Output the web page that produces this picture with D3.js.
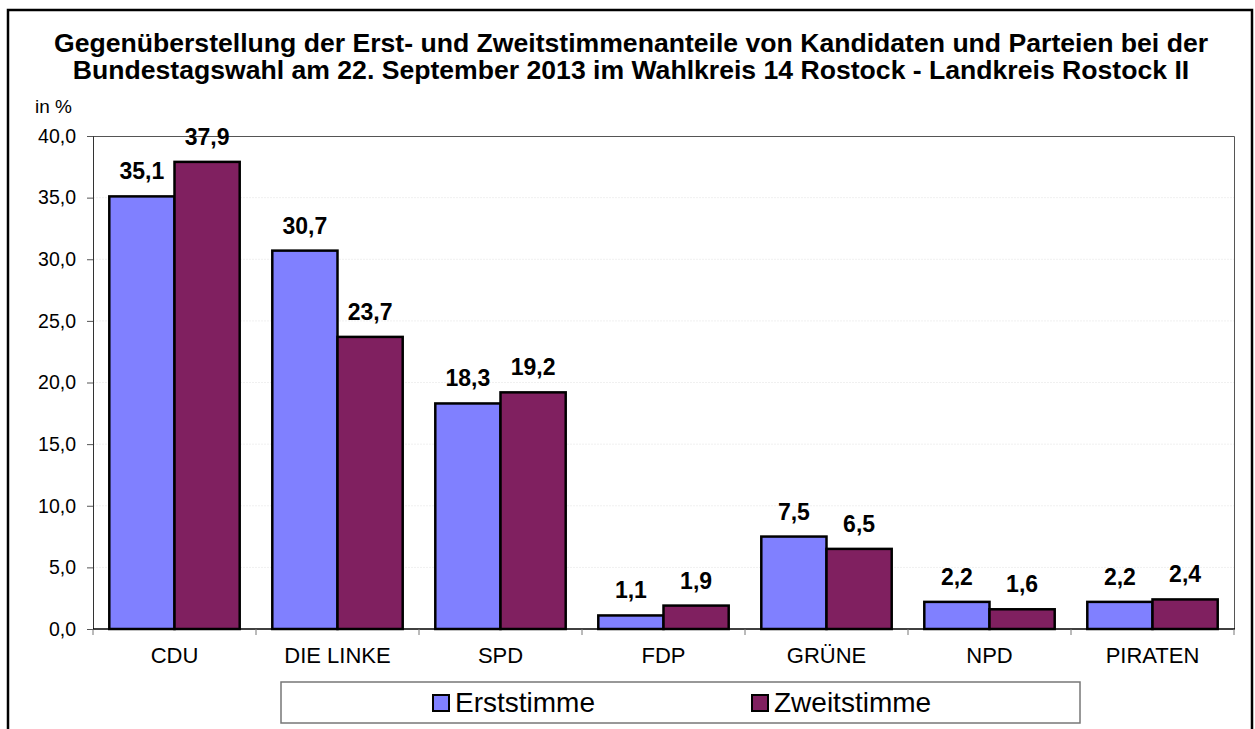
<!DOCTYPE html>
<html>
<head>
<meta charset="utf-8">
<script src="https://cdn.jsdelivr.net/npm/d3@7"></script>
<style>
  body { margin: 0; background: #fff; }
  text { font-family: Arial, "Liberation Sans", sans-serif; fill: #000; }
</style>
</head>
<body>
<svg width="1255" height="729"></svg>
<script>
// data
var parties = ["CDU", "DIE LINKE", "SPD", "FDP", "GRÜNE", "NPD", "PIRATEN"];
var erststimme = [35.1, 30.7, 18.3, 1.1, 7.5, 2.2, 2.2];
var zweitstimme = [37.9, 23.7, 19.2, 1.9, 6.5, 1.6, 2.4];
var seriesNames = ["Erststimme", "Zweitstimme"];
var seriesColors = ["#8080ff", "#802060"];
var yTicks = [0, 5, 10, 15, 20, 25, 30, 35, 40];
var titleLines = [
    "Gegenüberstellung der Erst- und Zweitstimmenanteile von Kandidaten und Parteien bei der",
    "Bundestagswahl am 22. September 2013 im Wahlkreis 14 Rostock - Landkreis Rostock II"
];

var de = d3.formatLocale({ decimal: ",", thousands: ".", grouping: [3], currency: ["", " €"] });
var fmt = de.format(".1f");

var svg = d3.select("svg");
var plotL = 93, plotR = 1234, plotT = 136, plotB = 629;

// outer frame
svg.append("rect")
    .attr("x", 8).attr("y", 10)
    .attr("width", 1244).attr("height", 740)
    .attr("fill", "#fff")
    .attr("stroke", "#000")
    .attr("stroke-width", 2.5);

// title
svg.selectAll(".title").data(titleLines).enter().append("text")
    .attr("class", "title")
    .attr("x", 631)
    .attr("y", function (d, i) { return 52 + i * 27; })
    .attr("text-anchor", "middle")
    .style("font-size", "26.6px")
    .style("font-weight", "bold")
    .text(function (d) { return d; });

svg.append("text")
    .attr("x", 35).attr("y", 113)
    .style("font-size", "19px")
    .text("in %");

var y = d3.scaleLinear().domain([0, 40]).range([plotB, plotT]);
var x0 = d3.scaleBand().domain(parties).range([plotL, plotR]).paddingInner(0.2).paddingOuter(0.1);
var x1 = d3.scaleBand().domain(seriesNames).range([0, x0.bandwidth()]);

// gridlines, very faint in the original
svg.append("g").selectAll("line").data(yTicks.filter(function (t) { return t > 0 && t < 40; }))
    .enter().append("line")
    .attr("x1", plotL).attr("x2", plotR)
    .attr("y1", function (d) { return y(d); })
    .attr("y2", function (d) { return y(d); })
    .attr("stroke", "#f0f0f0")
    .attr("stroke-width", 1)
    .attr("stroke-dasharray", "2,1");

// plot border top/right
svg.append("path")
    .attr("d", "M" + plotL + "," + (plotT + 0.5) + "H" + (plotR + 0.5) + "V" + plotB)
    .attr("fill", "none")
    .attr("stroke", "#555")
    .attr("stroke-width", 1);

// y axis
var yAxis = d3.axisLeft(y).tickValues(yTicks).tickSize(6).tickPadding(11).tickFormat(fmt);
var gy = svg.append("g").attr("transform", "translate(" + plotL + ",0)").call(yAxis);
gy.select(".domain").attr("stroke", "#333");
gy.selectAll(".tick line").attr("stroke", "#555");
gy.selectAll("text").style("font-size", "19.5px").attr("font-family", null);

// bars
var rows = parties.map(function (p, i) {
    return { party: p, values: [erststimme[i], zweitstimme[i]] };
});
var groups = svg.append("g").selectAll("g").data(rows).enter().append("g")
    .attr("transform", function (d) { return "translate(" + x0(d.party) + ",0)"; });

groups.selectAll("rect").data(function (d) {
    return d.values.map(function (v, j) { return { name: seriesNames[j], value: v, color: seriesColors[j] }; });
}).enter().append("rect")
    .attr("x", function (d) { return x1(d.name); })
    .attr("width", x1.bandwidth())
    .attr("y", function (d) { return y(d.value); })
    .attr("height", function (d) { return y(0) - y(d.value); })
    .attr("fill", function (d) { return d.color; })
    .attr("stroke", "#000")
    .attr("stroke-width", 2.5);

groups.selectAll(".lbl").data(function (d) {
    return d.values.map(function (v, j) { return { name: seriesNames[j], value: v }; });
}).enter().append("text")
    .attr("class", "lbl")
    .attr("x", function (d) { return x1(d.name) + x1.bandwidth() / 2; })
    .attr("y", function (d) { return y(d.value) - 17; })
    .attr("text-anchor", "middle")
    .style("font-size", "23px")
    .style("font-weight", "bold")
    .text(function (d) { return fmt(d.value); });

// x axis
var gx = svg.append("g").attr("transform", "translate(0," + plotB + ")");
gx.append("line")
    .attr("x1", plotL).attr("x2", plotR + 1)
    .attr("stroke", "#000").attr("stroke-width", 1.5);
var bounds = parties.map(function (p) { return x0(p) - x0.step() * x0.paddingOuter(); });
bounds.push(plotR);
gx.selectAll(".xt").data(bounds).enter().append("line")
    .attr("class", "xt")
    .attr("x1", function (d) { return d; }).attr("x2", function (d) { return d; })
    .attr("y1", 0).attr("y2", 6)
    .attr("stroke", "#777");
gx.selectAll(".cat").data(parties).enter().append("text")
    .attr("class", "cat")
    .attr("x", function (d) { return x0(d) + x0.bandwidth() / 2; })
    .attr("y", 34)
    .attr("text-anchor", "middle")
    .style("font-size", "22px")
    .text(function (d) { return d; });

// legend
var legend = svg.append("g");
legend.append("rect")
    .attr("x", 281).attr("y", 682)
    .attr("width", 799).attr("height", 41)
    .attr("fill", "#fff")
    .attr("stroke", "#777")
    .attr("stroke-width", 1.5);
var legendX = [433, 752];
var items = legend.selectAll(".item").data(seriesNames).enter().append("g")
    .attr("transform", function (d, i) { return "translate(" + legendX[i] + ",695)"; });
items.append("rect")
    .attr("width", 16).attr("height", 16)
    .attr("fill", function (d, i) { return seriesColors[i]; })
    .attr("stroke", "#000")
    .attr("stroke-width", 2);
items.append("text")
    .attr("x", 22).attr("y", 17)
    .style("font-size", "28px")
    .text(function (d) { return d; });
</script>
</body>
</html>
